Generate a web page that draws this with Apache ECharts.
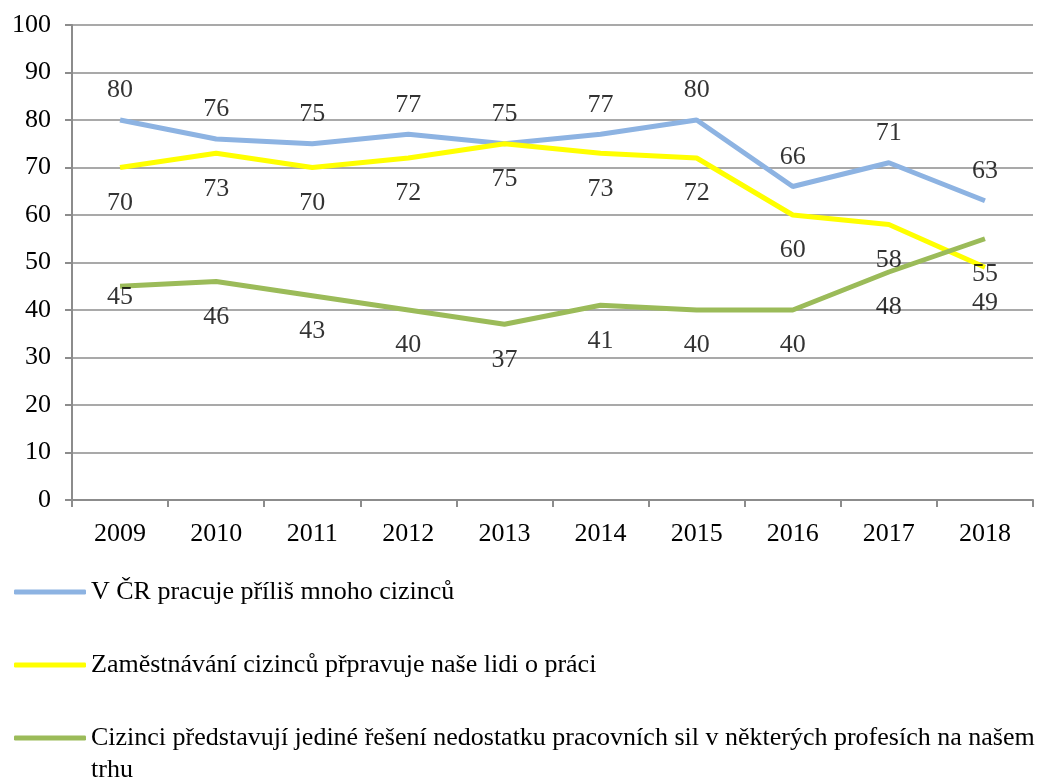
<!DOCTYPE html>
<html>
<head>
<meta charset="utf-8">
<script src="https://cdn.jsdelivr.net/npm/echarts@6/dist/echarts.min.js"></script>
<style>
html,body{margin:0;padding:0;background:#fff;}
#chart{width:1059px;height:778px;}
</style>
</head>
<body>
<div id="chart"></div>
<script>
var categories = ['2009','2010','2011','2012','2013','2014','2015','2016','2017','2018'];
var seriesNames = [
  'V ČR pracuje příliš mnoho cizinců',
  'Zaměstnávání cizinců přpravuje naše lidi o práci',
  'Cizinci představují jediné řešení nedostatku pracovních sil v některých profesích na našem trhu'
];
var blueValues   = [80, 76, 75, 77, 75, 77, 80, 66, 71, 63];
var yellowValues = [70, 73, 70, 72, 75, 73, 72, 60, 58, 49];
var greenValues  = [45, 46, 43, 40, 37, 41, 40, 40, 48, 55];
// data labels as printed in the picture
var blueLabels   = [80, 76, 75, 77, 75, 77, 80, 66, 71, 63];
var yellowLabels = [70, 73, 70, 72, 75, 73, 72, 60, 58, 55];
var greenLabels  = [45, 46, 43, 40, 37, 41, 40, 40, 48, 49];

var FONT = '"Liberation Serif", "Times New Roman", serif';
var FS = 26;
var colors = ['#8db3e2', '#ffff00', '#9bbb59'];

function lineSeries(name, data, color) {
  return {
    name: name, type: 'line', data: data,
    symbol: 'none', smooth: false, z: 3,
    lineStyle: { color: color, width: 5 },
    itemStyle: { color: color },
    emphasis: { disabled: true }
  };
}
function labelSeries(id, data, pos, dist, special) {
  return {
    id: id, name: id, type: 'scatter', silent: true, z: 5,
    symbolSize: 1,
    itemStyle: { color: 'rgba(0,0,0,0)' },
    data: data.map(function (v, i) {
      var item = { value: v };
      if (special && special[i]) item.label = special[i];
      return item;
    }),
    label: {
      show: true, position: pos, distance: dist,
      color: '#000', fontFamily: FONT, fontSize: FS
    }
  };
}
function legendFor(idx, top, formatter) {
  var l = {
    orient: 'vertical', left: 9, top: top, padding: 5,
    itemWidth: 72, itemHeight: 5, itemGap: 10,
    icon: 'roundRect', selectedMode: false,
    textStyle: { color: '#000', fontFamily: FONT, fontSize: FS, lineHeight: 32 },
    data: [seriesNames[idx]]
  };
  if (formatter) l.formatter = formatter;
  return l;
}

var chart = echarts.init(document.getElementById('chart'));
chart.setOption({
  backgroundColor: '#fff',
  animation: false,
  grid: { left: 72, right: 26, top: 25, bottom: 278, containLabel: false },
  xAxis: {
    type: 'category', data: categories, boundaryGap: true,
    axisLine: { lineStyle: { color: '#8c8c8c', width: 2 } },
    axisTick: { show: true, length: 7, lineStyle: { color: '#8c8c8c', width: 2 } },
    axisLabel: { color: '#000', fontFamily: FONT, fontSize: FS, margin: 21 }
  },
  yAxis: {
    type: 'value', min: 0, max: 100, interval: 10,
    axisLine: { show: true, lineStyle: { color: '#8c8c8c', width: 2 } },
    axisTick: { show: true, length: 7, lineStyle: { color: '#8c8c8c', width: 2 } },
    axisLabel: { color: '#000', fontFamily: FONT, fontSize: FS, margin: 21 },
    splitLine: { show: true, lineStyle: { color: '#8c8c8c', width: 1.5 } }
  },
  legend: [
    legendFor(0, 571),
    legendFor(1, 644),
    // wrap the last word onto a second line; blank first line keeps the icon on the first text line
    legendFor(2, 685, function (name) { return '\n' + name.replace(/ (\S+)$/, '\n$1'); })
  ],
  series: [
    lineSeries(seriesNames[0], blueValues, colors[0]),
    lineSeries(seriesNames[1], yellowValues, colors[1]),
    lineSeries(seriesNames[2], greenValues, colors[2]),
    labelSeries('lblBlue', blueLabels, 'top', 16),
    labelSeries('lblYellow', yellowLabels, 'bottom', 22),
    labelSeries('lblGreen', greenLabels, 'bottom', 22, { 0: { offset: [0, -25] } })
  ]
});
</script>
</body>
</html>
